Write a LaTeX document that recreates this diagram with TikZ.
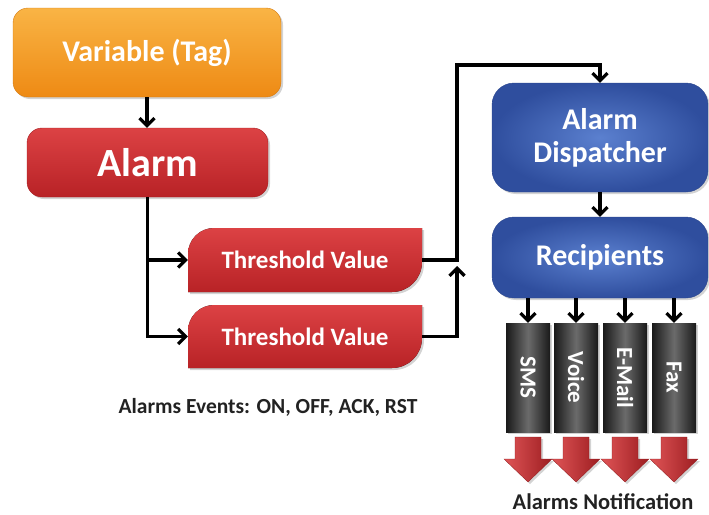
\documentclass[tikz,border=0pt]{standalone}
\usepackage{fontspec}
\setmainfont{Carlito}
\usetikzlibrary{shadows,arrows.meta}
\definecolor{orT}{HTML}{F9B445}
\definecolor{orB}{HTML}{EE8A14}
\definecolor{rdT}{HTML}{DC4244}
\definecolor{rdB}{HTML}{B82226}
\definecolor{blI}{HTML}{5B80CF}
\definecolor{blO}{HTML}{2F4E9E}
\definecolor{txt}{HTML}{222222}
\begin{document}
\begin{tikzpicture}[x=1pt,y=-1pt,
  shad/.style={drop shadow={opacity=0.35,shadow xshift=2pt,shadow yshift=-2pt}},
  orbox/.style={shad,rounded corners=15pt,top color=orT,bottom color=orB,draw=orB!90!black,line width=0.4pt,text=white,font=\bfseries},
  rdbox/.style={shad,rounded corners=15pt,top color=rdT,bottom color=rdB,draw=rdB!90!black,line width=0.4pt,text=white,font=\bfseries},
  blbox/.style={shad,rounded corners=22pt,shading=radial,inner color=blI,outer color=blO,draw=blO!90!black,line width=0.4pt,text=white,font=\bfseries,align=center},
  chan/.style={shad,rectangle,minimum width=44pt,minimum height=109pt,left color=black!90,right color=black!90,middle color=black!58,text=white,font=\bfseries\fontsize{23}{23}\selectfont,inner sep=0pt},
  lbl/.style={text=txt,font=\bfseries\fontsize{21.5}{24}\selectfont},
  conn/.style={line width=3.2pt,black},
  arr/.style={conn,-{Straight Barb[length=7.5pt,width=15pt]}},
  redarrow/.style={shad,left color=rdT!90!white,right color=rdB!85!black,draw=rdB!80!black,line width=0.3pt}
]
\useasboundingbox (0,0) rectangle (709,514);

% top-left boxes
\node[orbox,minimum width=268pt,minimum height=89pt,font=\bfseries\fontsize{30}{33}\selectfont] (V) at (147,52.5) {Variable (Tag)};
\node[rdbox,minimum width=241pt,minimum height=69pt,font=\bfseries\fontsize{40}{44}\selectfont] (A) at (147.5,162.5) {Alarm};

% threshold shapes
\foreach \ya/\yb in {228/292,305/368}{
  \fill[shad,top color=rdT,bottom color=rdB]
    (188,\yb) -- (188,\ya+26) .. controls (188,\ya+11.6) and (199.6,\ya) .. (214,\ya)
    -- (422,\ya) -- (422,\yb-30) .. controls (422,\yb-13.4) and (408.6,\yb) .. (392,\yb) -- cycle;
}
\node[minimum width=234pt,minimum height=64pt,text=white,font=\bfseries\fontsize{25}{28}\selectfont] (T1) at (305,260) {Threshold Value};
\node[minimum width=234pt,minimum height=63pt,text=white,font=\bfseries\fontsize{25}{28}\selectfont] (T2) at (305,336.5) {Threshold Value};

% right boxes
\node[blbox,minimum width=216pt,minimum height=109pt,font=\bfseries\fontsize{30}{33}\selectfont] (D) at (600,137.5) {Alarm\\Dispatcher};
\node[blbox,minimum width=216pt,minimum height=81pt,font=\bfseries\fontsize{30}{33}\selectfont] (R) at (600,257.5) {Recipients};

% channels
\node[chan] (c1) at (528,377.5) {\rotatebox{-90}{SMS}};
\node[chan] (c2) at (576,377.5) {\rotatebox{-90}{Voice}};
\node[chan] (c3) at (625,377.5) {\rotatebox{-90}{E-Mail}};
\node[chan] (c4) at (674,377.5) {\rotatebox{-90}{Fax}};

% red arrows
\foreach \cx in {528,576,625,674}{
  \path[redarrow] (\cx-13,437) -- (\cx+13,437) -- (\cx+13,459) -- (\cx+24,459) -- (\cx,482) -- (\cx-24,459) -- (\cx-13,459) -- cycle;
}

% labels
\node[lbl] (ev) at (268,407) {Alarms Events: ON, OFF, ACK, RST};
\node[lbl,font=\bfseries\fontsize{22.5}{25}\selectfont] (nt) at (603,502) {Alarms Notification};

% connectors
\coordinate (up) at (457,65);
\coordinate (J2) at (457,266);
\draw[arr] (V.south) -- (V.south |- A.north);
\draw[arr] (A.south) |- (T2.west);
\draw[arr] (A.south |- T1.west) -- (T1.west);
\draw[arr] (T1.east) -- (T1.east -| up) -- (up) -| (D.north);
\draw[arr] (T2.east) -| (J2);
\draw[arr] (D.south) -- (R.north);
\foreach \c in {c1,c2,c3,c4}{
  \draw[arr] (R.south -| \c.north) -- (\c.north);
}
\end{tikzpicture}
\end{document}
